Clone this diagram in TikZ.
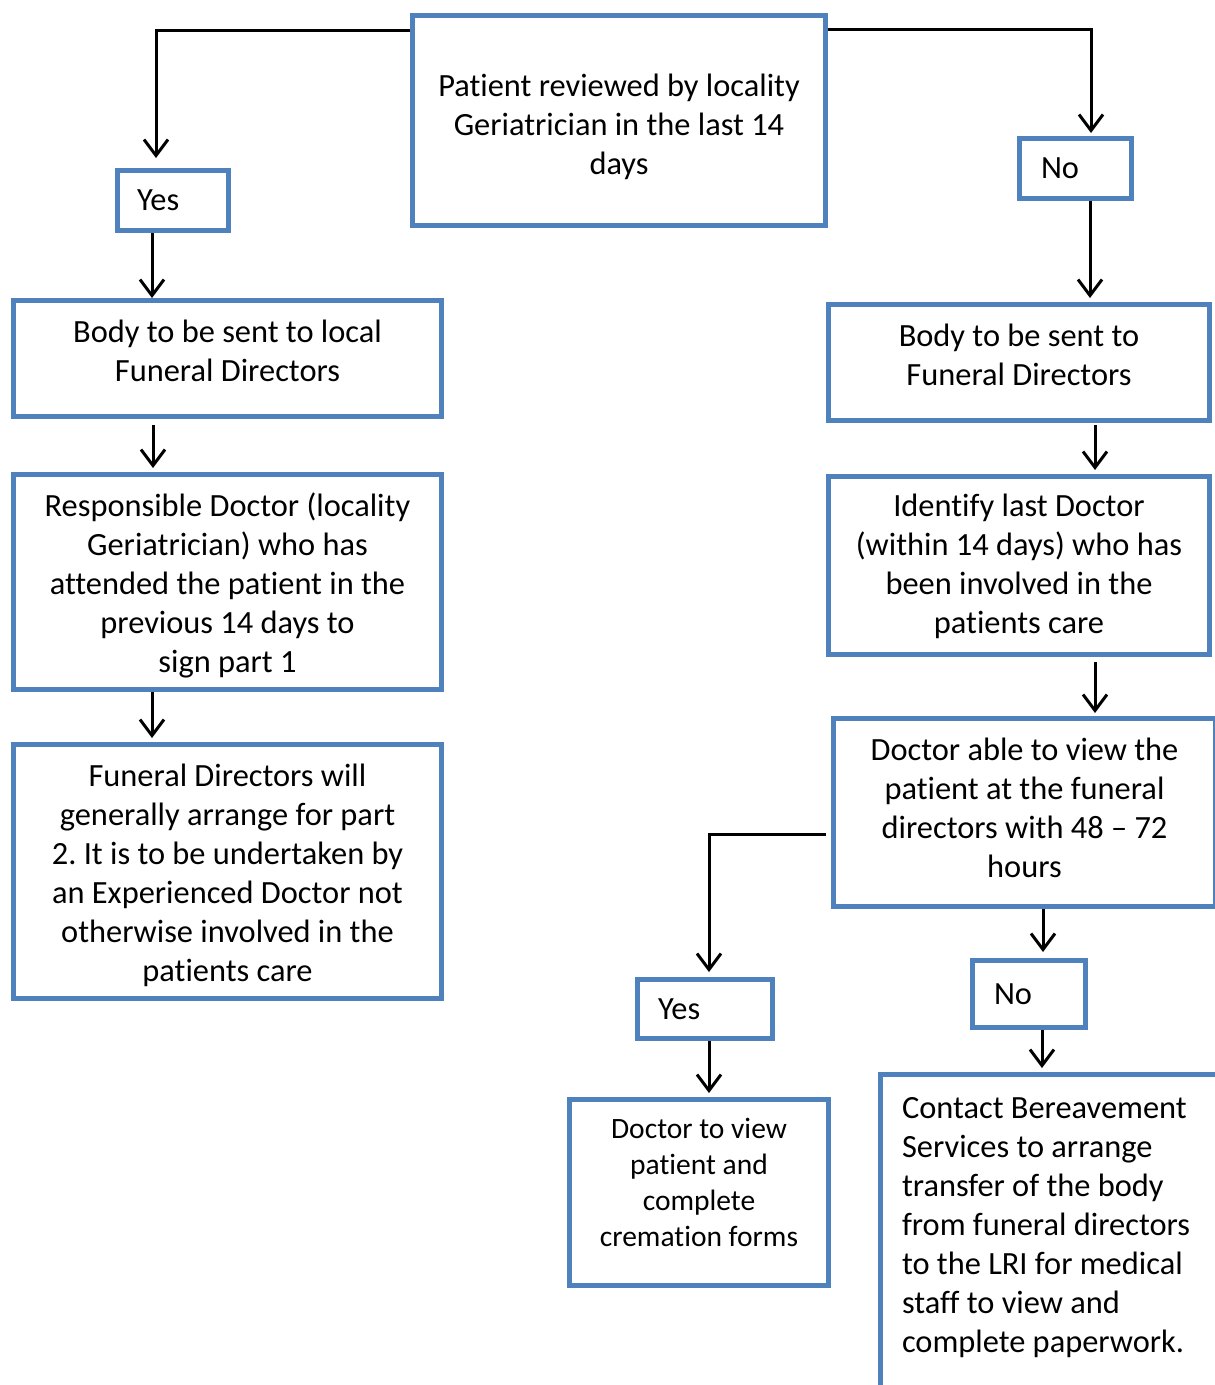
\documentclass[tikz,border=0pt]{standalone}
\usepackage{fontspec}
\setmainfont{Carlito}[Ligatures=CommonOff]
\usetikzlibrary{arrows.meta}
\definecolor{boxblue}{RGB}{79,129,189}
\frenchspacing
\newcommand{\boxtext}[2]{\raisebox{#1}[\height][\depth]{\begin{tabular}{@{}c@{}}#2\end{tabular}}}
\begin{document}
\begin{tikzpicture}[x=1pt,y=-1pt,
		box/.style={draw=boxblue,line width=5pt,inner sep=0pt,font=\fontsize{32.4}{39}\selectfont},
		tag/.style={box,align=flush left,minimum height=60pt},
		arr/.style={-{Straight Barb[length=16pt,width=24pt]},line width=3pt}]
	
	\useasboundingbox (0,0) rectangle (1215,1385);
	\clip (0,0) rectangle (1215,1385);
	
	\node[box,minimum width=413pt,minimum height=210pt] (review) at (619,120.5) {\boxtext{-7.5pt}{Patient reviewed by locality\\Geriatrician in the last 14\\days}};
	\node[tag,text width=72pt,inner xsep=19.5pt] (yes1) at (173,200.5) {Yes};
	\node[tag,text width=69pt,inner xsep=21.5pt] (no1) at (1075.5,168.5) {No};
	
	\node[box,minimum width=428pt,minimum height=116pt] (bodyL) at (227.5,358.5) {\boxtext{4.5pt}{Body to be sent to local\\Funeral Directors}};
	\node[box,minimum width=428pt,minimum height=215pt] (resp) at (227.5,582) {\boxtext{-5pt}{Responsible Doctor (locality\\Geriatrician) who has\\attended the patient in the\\previous 14 days to\\sign part 1}};
	\node[box,minimum width=428pt,minimum height=254pt] (funeral) at (227.5,871.5) {\boxtext{-5pt}{Funeral Directors will\\generally arrange for part\\2. It is to be undertaken by\\an Experienced Doctor not\\otherwise involved in the\\patients care}};
	
	\node[box,minimum width=381pt,minimum height=116pt] (bodyR) at (1019,362.5) {\boxtext{4pt}{Body to be sent to\\Funeral Directors}};
	\node[box,minimum width=381pt,minimum height=178pt] (ident) at (1019,565.5) {\boxtext{-2pt}{Identify last Doctor\\(within 14 days) who has\\been involved in the\\patients care}};
	\node[box,minimum width=382pt,minimum height=188pt] (able) at (1024.5,812.5) {\boxtext{1pt}{Doctor able to view the\\patient at the funeral\\directors with 48 -- 72\\hours}};
	
	\node[tag,text width=94pt,inner xsep=20.5pt,minimum height=59pt] (yes2) at (705,1009) {Yes};
	\node[tag,text width=70pt,inner xsep=21.5pt,minimum height=67pt] (no2) at (1029,994) {No};
	\node[box,minimum width=259pt,minimum height=186pt,font=\fontsize{29.5}{36}\selectfont] (view) at (699,1192.5) {\boxtext{7pt}{Doctor to view\\patient and\\complete\\cremation forms}};
	\node[box,align=flush left,anchor=north west,text width=337pt,inner xsep=21.5pt,inner ysep=23pt,text depth=340pt] (contact) at (878,1072) {Contact Bereavement\\Services to arrange\\transfer of the body\\from funeral directors\\to the LRI for medical\\staff to view and\\complete paperwork.};
	
	\draw[arr] ([yshift=-17pt]review.north west) -| ([xshift=-17pt,yshift=10pt]yes1.north);
	\draw[arr] ([yshift=-16pt]review.north east) -| ([xshift=15.5pt,yshift=3pt]no1.north);
	\draw[arr] ([xshift=-21pt]yes1.south) -- ([xshift=-75.5pt]bodyL.north);
	\draw[arr] ([xshift=14.5pt]no1.south) -- ([xshift=71pt,yshift=4pt]bodyR.north);
	\draw[arr] ([xshift=-74.5pt,yshift=-6pt]bodyL.south) -- ([xshift=-74.5pt,yshift=4pt]resp.north);
	\draw[arr] ([xshift=76pt,yshift=-2pt]bodyR.south) -- ([xshift=76pt,yshift=4pt]ident.north);
	\draw[arr] ([xshift=-75.5pt]resp.south) -- ([xshift=-75.5pt,yshift=4pt]funeral.north);
	\draw[arr] ([xshift=76pt,yshift=-5pt]ident.south) -- ([xshift=70.5pt,yshift=3pt]able.north);
	\draw[arr] ([xshift=-5pt,yshift=-21.5pt]able.west) -| ([xshift=4pt,yshift=5pt]yes2.north);
	\draw[arr] ([xshift=4pt]yes2.south) -- ([xshift=10pt,yshift=4pt]view.north);
	\draw[arr] ([xshift=18.5pt]able.south) -- ([xshift=14pt,yshift=6pt]no2.north);
	\draw[arr] ([xshift=13pt]no2.south) -- ([xshift=164pt,yshift=4pt]contact.north west);
\end{tikzpicture}
\end{document}
